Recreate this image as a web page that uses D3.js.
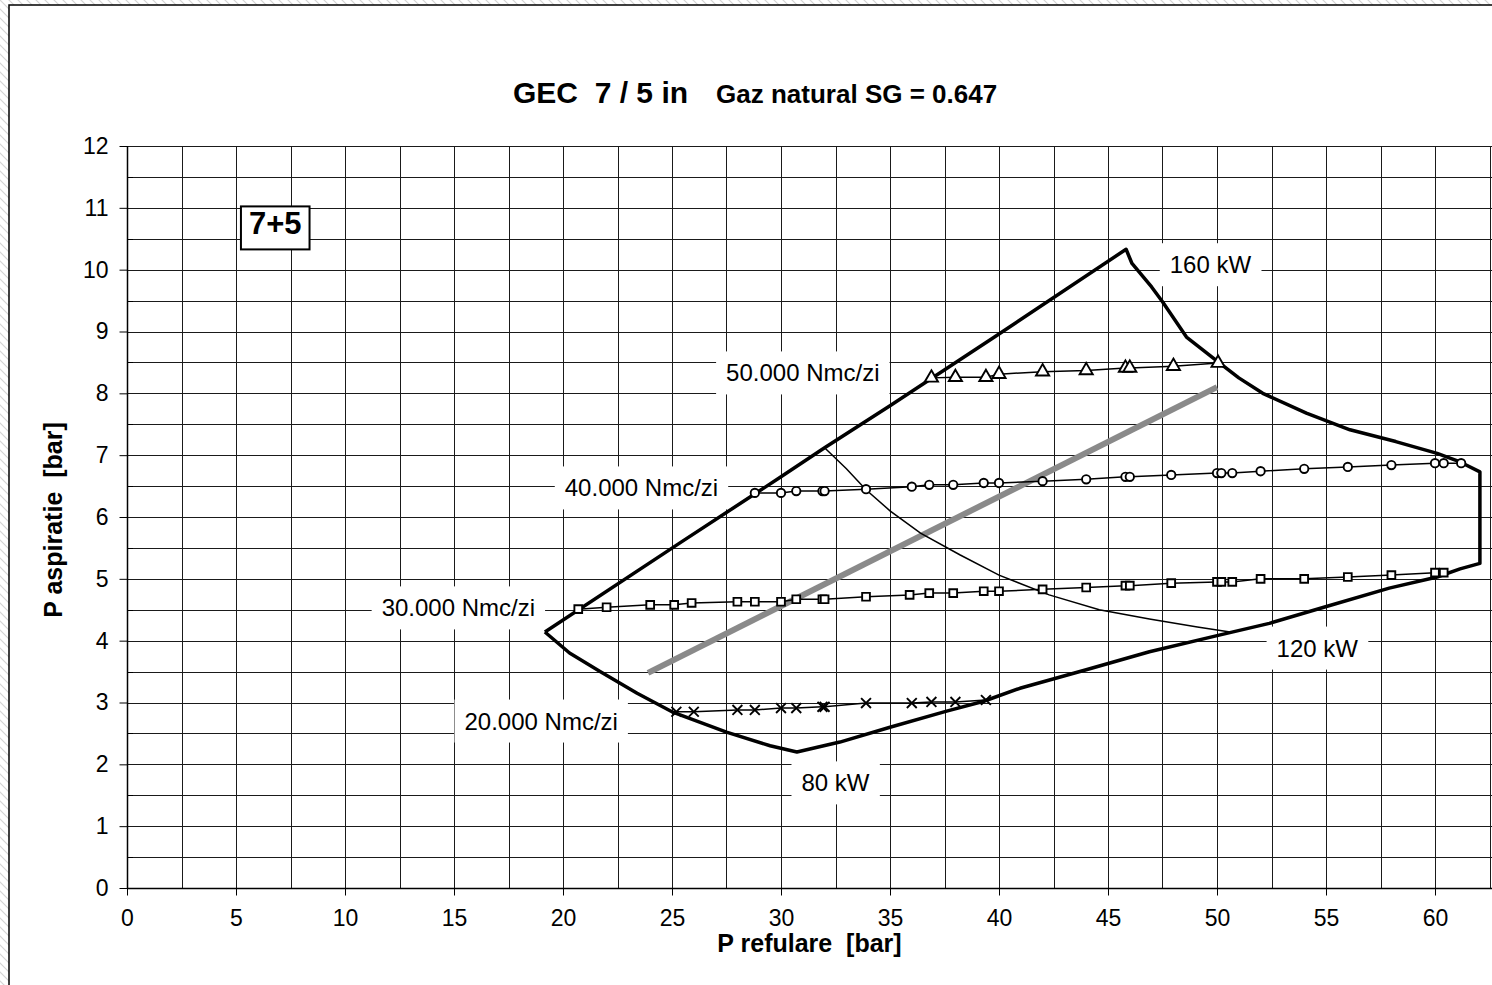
<!DOCTYPE html>
<html>
<head>
<meta charset="utf-8">
<script src="https://cdn.jsdelivr.net/npm/d3@7"></script>
<style>
	body { margin: 0; background: #fff; }
	svg text { font-family: 'Liberation Sans', Arial, sans-serif; fill: #000; }
</style>
</head>
<body>
<div id="graphic"></div>
<script>
// envelope of the compressor (thick outline), [P refulare, P aspiratie]
const envelope = [
	[19.17, 4.14], [25.4, 5.59], [30.0, 6.65], [32.0, 7.12], [35.0, 7.8], [40.0, 8.96], [45.83, 10.33],
	[46.1, 10.1], [47.0, 9.72], [47.5, 9.48], [48.6, 8.91], [50.05, 8.51], [51.0, 8.25], [52.1, 8.0],
	[54.1, 7.68], [56.1, 7.41], [58.2, 7.22], [60.1, 7.03], [61.15, 6.89], [62.06, 6.73],
	[62.06, 5.25], [61.15, 5.16], [60.1, 5.03], [57.9, 4.85], [54.9, 4.54], [52.4, 4.28], [50.1, 4.09],
	[46.9, 3.82], [44.0, 3.53], [40.96, 3.23], [39.3, 3.02], [37.6, 2.86], [35.0, 2.6], [32.7, 2.36],
	[30.73, 2.2], [29.5, 2.3], [27.5, 2.52], [25.0, 2.85], [23.4, 3.15], [21.7, 3.5], [20.3, 3.8], [19.17, 4.14]
];

// 120 kW power line
const line120 = [
	[32.0, 7.12], [33.0, 6.78], [33.9, 6.44], [35.0, 6.1], [36.4, 5.74], [38.2, 5.39], [40.0, 5.06],
	[42.3, 4.74], [44.6, 4.5], [46.9, 4.35], [49.1, 4.22], [50.6, 4.14]
];

// grey operating line
const greyLine = [[23.9, 3.48], [50.0, 8.1]];

// flow series
const s50x = [36.9, 38.0, 39.4, 40.0, 42.0, 44.0, 45.8, 46.0, 48.0, 50.05];
const s50y = [8.25, 8.26, 8.26, 8.31, 8.35, 8.37, 8.41, 8.41, 8.44, 8.49];

const s40x = [28.8, 30.0, 30.7, 31.9, 32.0, 33.9, 36.0, 36.8, 37.9, 39.3, 40.0, 42.0, 44.0, 45.8, 46.0,
	47.9, 50.0, 50.2, 50.7, 52.0, 54.0, 56.0, 58.0, 60.0, 60.4, 61.2];
const s40y = [6.39, 6.39, 6.42, 6.42, 6.42, 6.45, 6.49, 6.52, 6.52, 6.55, 6.55, 6.58, 6.61, 6.65, 6.65,
	6.68, 6.71, 6.71, 6.71, 6.74, 6.78, 6.81, 6.84, 6.87, 6.87, 6.87];

const s30x = [20.7, 22.0, 24.0, 25.1, 25.9, 28.0, 28.8, 30.0, 30.7, 31.9, 32.0, 33.9, 35.9, 36.8, 37.9,
	39.3, 40.0, 42.0, 44.0, 45.8, 46.0, 47.9, 50.0, 50.2, 50.7, 52.0, 54.0, 56.0, 58.0, 60.0, 60.4];
const s30y = [4.51, 4.54, 4.58, 4.58, 4.61, 4.63, 4.63, 4.63, 4.67, 4.67, 4.67, 4.71, 4.74, 4.77, 4.77,
	4.8, 4.8, 4.83, 4.86, 4.89, 4.89, 4.93, 4.95, 4.95, 4.95, 5.0, 5.0, 5.03, 5.06, 5.1, 5.1];

const s20x = [25.2, 26.0, 28.0, 28.8, 30.0, 30.7, 31.9, 32.0, 33.9, 36.0, 36.9, 38.0, 39.4];
const s20y = [2.85, 2.85, 2.88, 2.88, 2.91, 2.91, 2.93, 2.93, 2.99, 2.99, 3.01, 3.01, 3.04];

// tick labels
const xTicks = [0, 5, 10, 15, 20, 25, 30, 35, 40, 45, 50, 55, 60];
const yTicks = [0, 1, 2, 3, 4, 5, 6, 7, 8, 9, 10, 11, 12];

// annotation texts, anchored in data units
const labels = [
	{ text: '50.000 Nmc/zi', x: 31.0, y: 8.33 },
	{ text: '40.000 Nmc/zi', x: 23.6, y: 6.47 },
	{ text: '30.000 Nmc/zi', x: 15.2, y: 4.53 },
	{ text: '20.000 Nmc/zi', x: 19.0, y: 2.70 },
	{ text: '160 kW', x: 49.7, y: 10.08 },
	{ text: '120 kW', x: 54.6, y: 3.88 },
	{ text: '80 kW', x: 32.5, y: 1.70 }
];

const width = 1492, height = 985;
const margin = { left: 127, top: 146, right: 0, bottom: 97 };

const svg = d3.select('#graphic')
	.append('svg')
	.attr('width', width)
	.attr('height', height);

// hatched background outside the chart area
const defs = svg.append('defs');
const pat = defs.append('pattern')
	.attr('id', 'hatch')
	.attr('patternUnits', 'userSpaceOnUse')
	.attr('width', 9)
	.attr('height', 9);
pat.append('rect').attr('width', 9).attr('height', 9).attr('fill', '#fff');
pat.append('path')
	.attr('d', 'M-1,-1 L10,10 M-1,8 L1,10 M8,-1 L10,1')
	.attr('stroke', '#d4d4d4')
	.attr('stroke-width', 1.2);

svg.append('rect').attr('width', width).attr('height', height).attr('fill', 'url(#hatch)');
svg.append('rect')
	.attr('x', 9).attr('y', 5)
	.attr('width', width + 20).attr('height', height + 20)
	.attr('fill', '#fff')
	.attr('stroke', '#000')
	.attr('stroke-width', 1.5);

// scales
const x = d3.scaleLinear().domain([0, 60]).range([margin.left, 1435]);
const y = d3.scaleLinear().domain([0, 12]).range([888, margin.top]);
const plotRight = width;

// grid
const grid = svg.append('g').attr('class', 'grid');
grid.selectAll('line.h')
	.data(d3.range(0.5, 12.01, 0.5))
	.join('line')
	.attr('x1', margin.left).attr('x2', plotRight)
	.attr('y1', (d) => Math.round(y(d)) + 0.5).attr('y2', (d) => Math.round(y(d)) + 0.5)
	.attr('stroke', '#1a1a1a').attr('stroke-width', 1);
grid.selectAll('line.v')
	.data(d3.range(2.5, 62.51, 2.5))
	.join('line')
	.attr('y1', y(12)).attr('y2', y(0))
	.attr('x1', (d) => Math.round(x(d)) + 0.5).attr('x2', (d) => Math.round(x(d)) + 0.5)
	.attr('stroke', '#1a1a1a').attr('stroke-width', 1);

// axes
const yAxis = d3.axisLeft(y)
	.tickValues(yTicks)
	.tickSize(8)
	.tickPadding(11)
	.tickFormat(d3.format('d'));
const xAxis = d3.axisBottom(x)
	.tickValues(xTicks)
	.tickSize(7)
	.tickPadding(14)
	.tickFormat(d3.format('d'));

svg.append('g')
	.attr('class', 'y axis')
	.attr('transform', 'translate(' + (margin.left + 0.5) + ',0)')
	.call(yAxis)
	.call((g) => g.select('.domain').remove())
	.call((g) => g.selectAll('text').style('font-size', '23px'));

svg.append('g')
	.attr('class', 'x axis')
	.attr('transform', 'translate(0,' + (y(0) + 0.5) + ')')
	.call(xAxis)
	.call((g) => g.select('.domain').remove())
	.call((g) => g.selectAll('text').style('font-size', '23px'));

// minor ticks inside the plot on the y axis
svg.append('g')
	.selectAll('line')
	.data(d3.range(0.5, 12, 1))
	.join('line')
	.attr('x1', margin.left).attr('x2', margin.left + 6)
	.attr('y1', (d) => Math.round(y(d)) + 0.5).attr('y2', (d) => Math.round(y(d)) + 0.5)
	.attr('stroke', '#000');

svg.append('line')
	.attr('x1', margin.left + 0.5).attr('x2', margin.left + 0.5)
	.attr('y1', y(12)).attr('y2', y(0))
	.attr('stroke', '#000').attr('stroke-width', 1.5);
svg.append('line')
	.attr('x1', margin.left).attr('x2', plotRight)
	.attr('y1', y(0) + 0.5).attr('y2', y(0) + 0.5)
	.attr('stroke', '#000').attr('stroke-width', 1.5);

// annotation labels with white boxes
const lab = svg.append('g').attr('class', 'labels');
labels.forEach((d) => {
	const t = lab.append('text')
		.attr('x', x(d.x))
		.attr('y', y(d.y))
		.attr('text-anchor', 'middle')
		.attr('dominant-baseline', 'central')
		.style('font-size', '24px')
		.text(d.text);
	const bb = t.node().getBBox();
	lab.insert('rect', 'text')
		.attr('x', bb.x - 10).attr('y', bb.y - 8)
		.attr('width', bb.width + 20).attr('height', bb.height + 16)
		.attr('fill', '#fff');
});

const line = d3.line().x((d) => x(d[0])).y((d) => y(d[1]));
const zip = (xs, ys) => xs.map((v, i) => [v, ys[i]]);

// grey line
svg.append('path')
	.attr('d', line(greyLine))
	.attr('fill', 'none')
	.attr('stroke', '#8a8a8a')
	.attr('stroke-width', 6);

// envelope and 120 kW line
svg.append('path')
	.attr('d', line(line120))
	.attr('fill', 'none')
	.attr('stroke', '#000')
	.attr('stroke-width', 1.5);

svg.append('path')
	.attr('d', line(envelope))
	.attr('fill', 'none')
	.attr('stroke', '#000')
	.attr('stroke-width', 3.5)
	.attr('stroke-linejoin', 'round');

// flow series with markers
const series = [
	{ pts: zip(s50x, s50y), sym: d3.symbolTriangle, size: 75 },
	{ pts: zip(s40x, s40y), sym: d3.symbolCircle, size: 55 },
	{ pts: zip(s30x, s30y), sym: d3.symbolSquare, size: 60 },
	{ pts: zip(s20x, s20y), sym: d3.symbolX, size: 65 }
];

series.forEach((s) => {
	const g = svg.append('g');
	g.append('path')
		.attr('d', line(s.pts))
		.attr('fill', 'none')
		.attr('stroke', '#000')
		.attr('stroke-width', 1.5);
	g.selectAll('path.m')
		.data(s.pts)
		.join('path')
		.attr('class', 'm')
		.attr('transform', (d) => 'translate(' + x(d[0]) + ',' + y(d[1]) + ')')
		.attr('d', d3.symbol().type(s.sym).size(s.size))
		.attr('fill', s.sym === d3.symbolX ? 'none' : '#fff')
		.attr('stroke', '#000')
		.attr('stroke-width', 1.9);
});

// "7+5" box
const box = svg.append('g');
const bt = box.append('text')
	.attr('x', x(6.8))
	.attr('y', y(10.74))
	.attr('text-anchor', 'middle')
	.attr('dominant-baseline', 'central')
	.style('font-size', '31px')
	.style('font-weight', 'bold')
	.text('7+5');
const bb = bt.node().getBBox();
box.insert('rect', 'text')
	.attr('x', bb.x - 8).attr('y', bb.y)
	.attr('width', bb.width + 16).attr('height', bb.height + 8)
	.attr('fill', '#fff')
	.attr('stroke', '#000')
	.attr('stroke-width', 2);

// title
const title = svg.append('text')
	.attr('x', 513)
	.attr('y', 103)
	.style('font-weight', 'bold');
title.append('tspan').style('font-size', '30px').text('GEC  7 / 5 in');
title.append('tspan').attr('dx', 28).style('font-size', '26px').text('Gaz natural SG = 0.647');
title.selectAll('tspan').attr('xml:space', 'preserve').style('white-space', 'pre');

// axis titles
svg.append('text')
	.attr('x', (margin.left + plotRight) / 2)
	.attr('y', 952)
	.attr('text-anchor', 'middle')
	.style('font-size', '25px')
	.style('font-weight', 'bold')
	.style('white-space', 'pre')
	.text('P refulare  [bar]');

svg.append('text')
	.attr('transform', 'translate(62,520) rotate(-90)')
	.attr('text-anchor', 'middle')
	.style('font-size', '25px')
	.style('font-weight', 'bold')
	.style('white-space', 'pre')
	.text('P aspiratie  [bar]');
</script>
</body>
</html>
